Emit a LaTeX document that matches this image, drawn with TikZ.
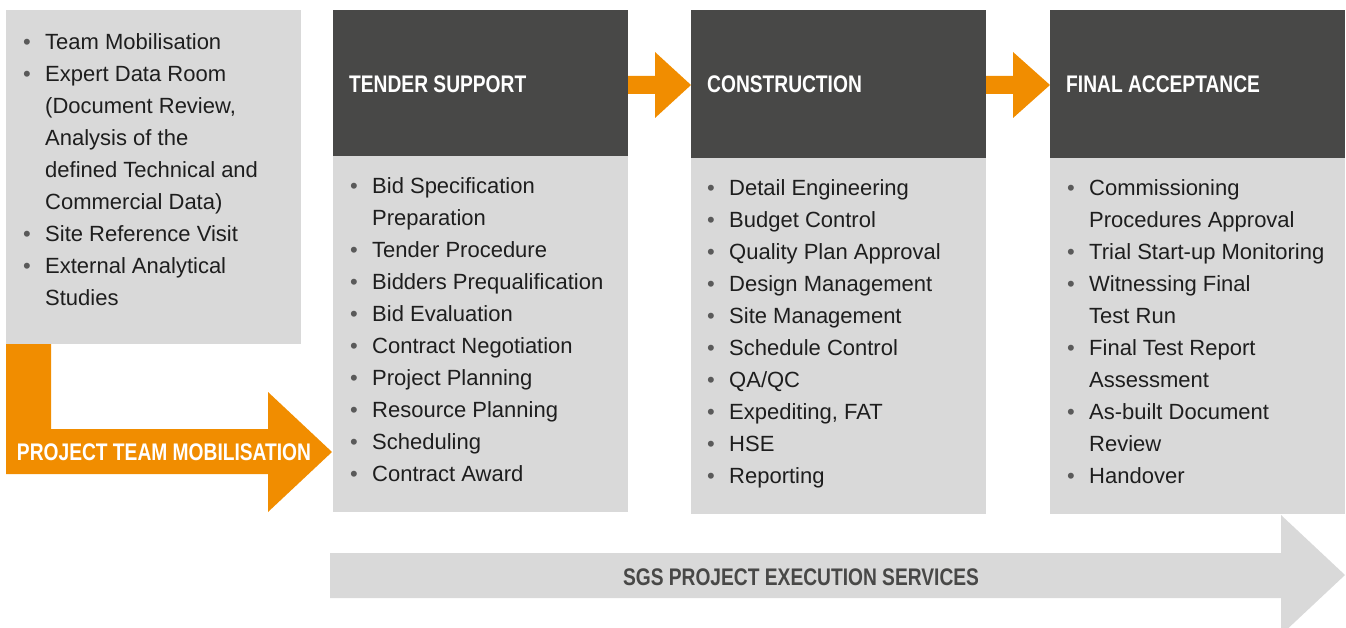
\documentclass[tikz,border=0pt]{standalone}
\usepackage{fontspec}
\setmainfont{Liberation Sans}
\newfontfamily\condbold[FakeStretch=0.8]{Liberation Sans Bold}
\usetikzlibrary{calc}
\definecolor{sgsgray}{HTML}{D9D9D9}
\definecolor{sgsdark}{HTML}{484847}
\definecolor{sgsorange}{HTML}{F18D00}
\definecolor{sgstext}{HTML}{1E1E1E}
\definecolor{sgsbullet}{HTML}{5A5A5A}
\newcommand\bul{\textcolor{sgsbullet}{•}}
\begin{document}
\begin{tikzpicture}[x=1pt,y=-1pt,
  panel/.style={fill=sgsgray, draw=none, inner sep=0pt, outer sep=0pt, anchor=north west, minimum width=295pt},
  header/.style={fill=sgsdark, draw=none, inner sep=0pt, outer sep=0pt, anchor=north west, minimum width=295pt, minimum height=148pt},
  headtext/.style={text=white, font=\condbold\fontsize{24}{24}\selectfont, inner sep=0pt, anchor=west},
  listtext/.style={text=sgstext, font=\fontsize{22}{32}\selectfont, inner sep=0pt, anchor=base west},
  flow/.style={fill=sgsorange, draw=none},
  band/.style={fill=sgsgray, draw=none}
]
\path[use as bounding box] (0,0) rectangle (1346,628);
\clip (0,0) rectangle (1346,628);

% boxes
\node[panel, minimum width=295pt, minimum height=334pt] (prep) at (6,10) {};
\node[header, minimum height=146pt] (tsHead) at (333,10) {};
\node[panel, minimum height=356pt] (tsBody) at (333,156) {};
\node[header] (coHead) at (691,10) {};
\node[panel, minimum height=356pt] (coBody) at (691,158) {};
\node[header] (faHead) at (1050,10) {};
\node[panel, minimum height=356pt] (faBody) at (1050,158) {};

% header texts
\node[headtext] (tsTitle) at (349,84) {TENDER SUPPORT};
\node[headtext] (coTitle) at (707,84) {CONSTRUCTION};
\node[headtext] (faTitle) at (1066,84) {FINAL ACCEPTANCE};

% L-shaped orange arrow
\fill[flow] (prep.south west) -- ++(45,0) -- ++(0,85) -- ++(217,0) -- ++(0,-37)
  -- ++(64,60) -- ++(-64,60) -- ++(0,-38) -- (prep.south west |- 0,474) -- cycle;
\node[text=white, font=\condbold\fontsize{24}{24}\selectfont, inner sep=0pt] (ptm) at (164,452) {PROJECT TEAM MOBILISATION};

% orange arrows between headers
\fill[flow] ($(tsHead.north east)+(0,66)$) coordinate (a1) -- ++(27,0) -- ++(0,-24) -- ($(coHead.north west)+(0,75)$) -- ($(a1)+(27,42)$) -- ++(0,-24) -- ++(-27,0) -- cycle;
\fill[flow] ($(coHead.north east)+(0,66)$) coordinate (a2) -- ++(27,0) -- ++(0,-24) -- ($(faHead.north west)+(0,75)$) -- ($(a2)+(27,42)$) -- ++(0,-24) -- ++(-27,0) -- cycle;

% bottom grey arrow
\fill[band] (330,553) -- (1281,553) -- (1281,515) -- (1345,575) -- (1281,635) -- (1281,598) -- (330,598) -- cycle;
\node[text=sgsdark, font=\condbold\fontsize{24}{24}\selectfont, inner sep=0pt] (sgs) at (801,577) {SGS PROJECT EXECUTION SERVICES};

% lists
\node[listtext] (prepList) at (23,50) {\begin{tabular}[t]{@{}p{22pt}@{}l@{}}
\bul & Team Mobilisation\\
\bul & Expert Data Room\\
 & (Document Review,\\
 & Analysis of the\\
 & defined Technical and\\
 & Commercial Data)\\
\bul & Site Reference Visit\\
\bul & External Analytical\\
 & Studies
\end{tabular}};

\node[listtext] (tsList) at (350,194) {\begin{tabular}[t]{@{}p{22pt}@{}l@{}}
\bul & Bid Specification\\
 & Preparation\\
\bul & Tender Procedure\\
\bul & Bidders Prequalification\\
\bul & Bid Evaluation\\
\bul & Contract Negotiation\\
\bul & Project Planning\\
\bul & Resource Planning\\
\bul & Scheduling\\
\bul & Contract Award
\end{tabular}};

\node[listtext] (coList) at (707,196) {\begin{tabular}[t]{@{}p{22pt}@{}l@{}}
\bul & Detail Engineering\\
\bul & Budget Control\\
\bul & Quality Plan Approval\\
\bul & Design Management\\
\bul & Site Management\\
\bul & Schedule Control\\
\bul & QA/QC\\
\bul & Expediting, FAT\\
\bul & HSE\\
\bul & Reporting
\end{tabular}};

\node[listtext] (faList) at (1067,196) {\begin{tabular}[t]{@{}p{22pt}@{}l@{}}
\bul & Commissioning\\
 & Procedures Approval\\
\bul & Trial Start-up Monitoring\\
\bul & Witnessing Final\\
 & Test Run\\
\bul & Final Test Report\\
 & Assessment\\
\bul & As-built Document\\
 & Review\\
\bul & Handover
\end{tabular}};
\end{tikzpicture}
\end{document}
